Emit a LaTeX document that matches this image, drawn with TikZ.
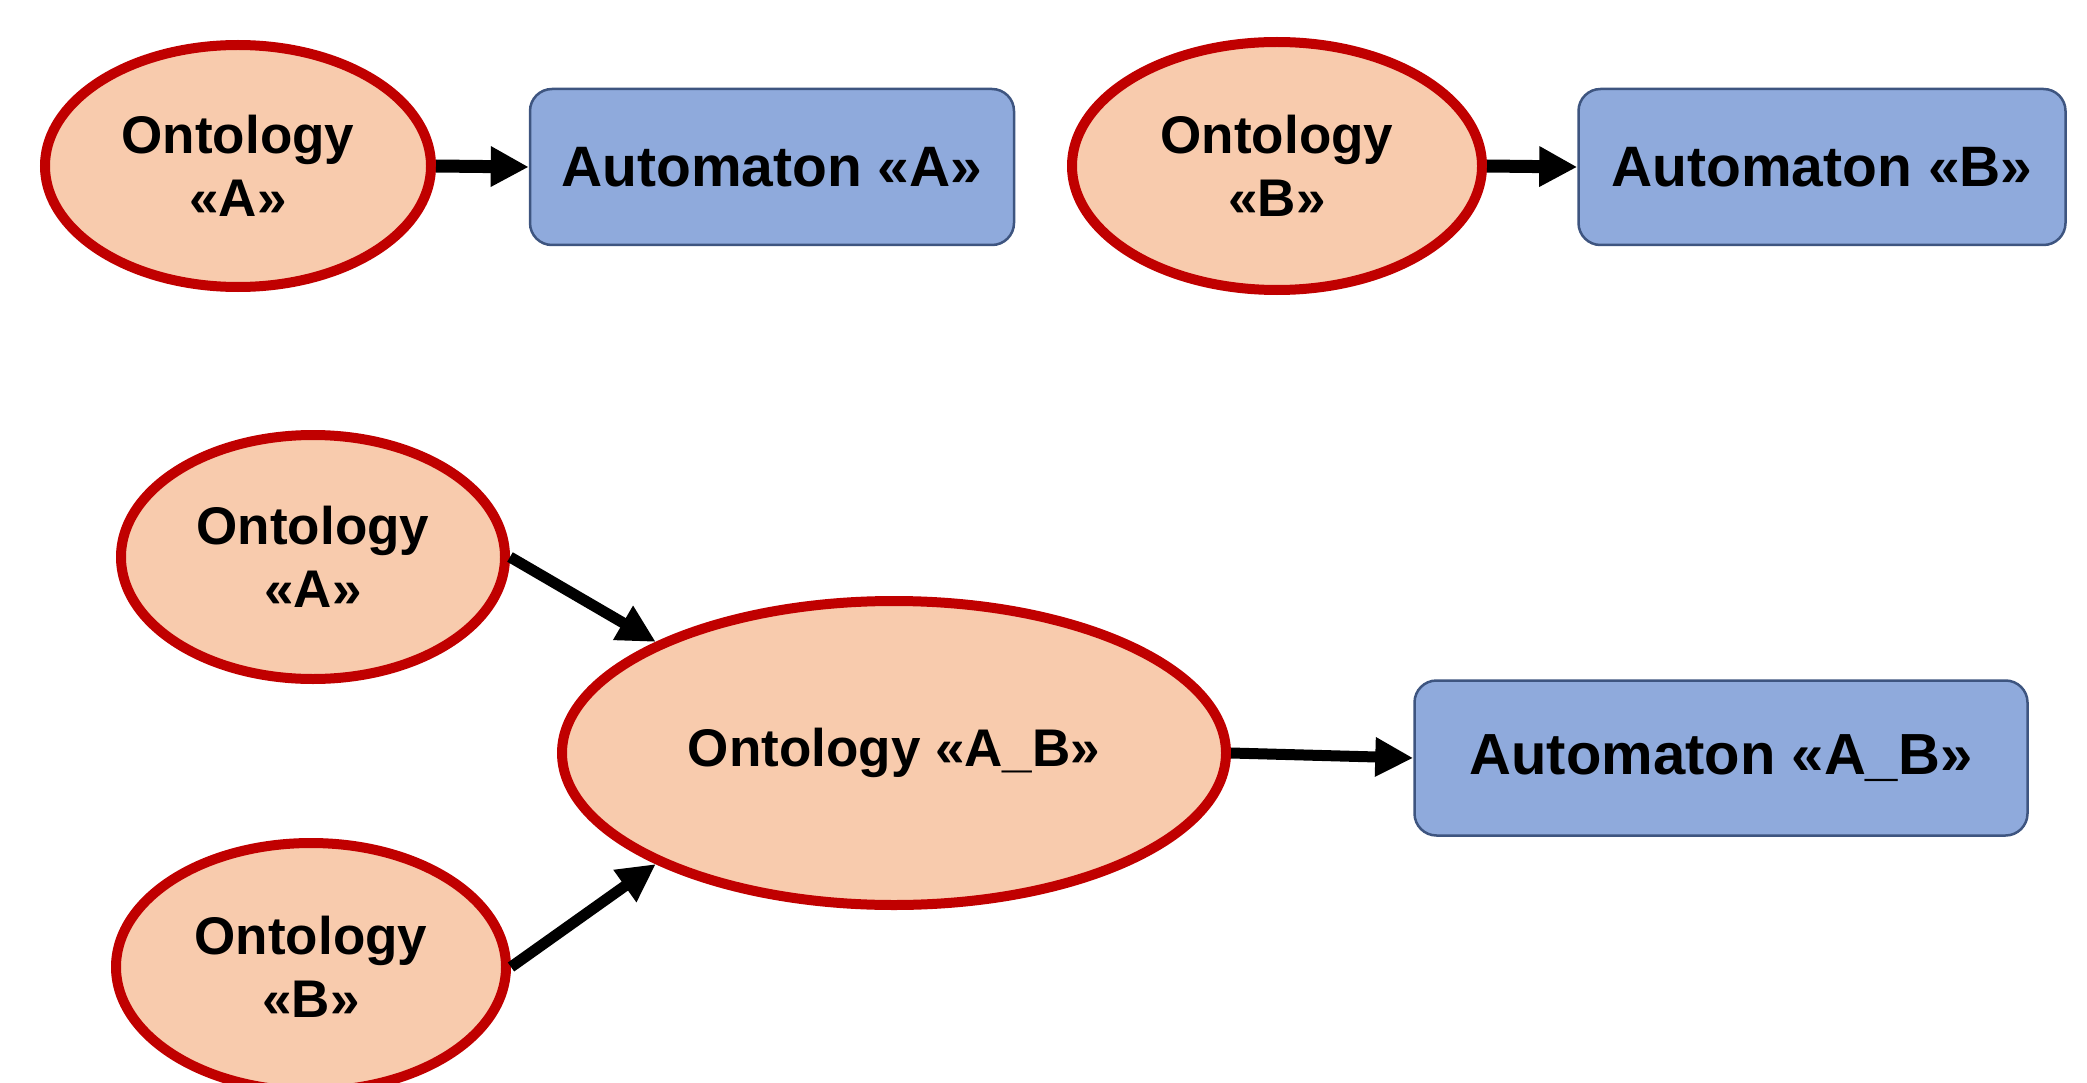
\documentclass[tikz,border=0pt]{standalone}
\usepackage{fontspec}
\setmainfont{Liberation Sans}
\usetikzlibrary{shapes.geometric,arrows.meta}
\definecolor{ontofill}{HTML}{F8CBAD}
\definecolor{ontoline}{HTML}{C00000}
\definecolor{autofill}{HTML}{8FAADC}
\definecolor{autoline}{HTML}{3E5580}
\tikzset{
  onto/.style={ellipse, draw=ontoline, fill=ontofill, line width=10pt, inner sep=0pt,
    align=center, font=\fontsize{53}{63}\selectfont\bfseries},
  autobox/.style={rectangle, rounded corners=22pt, draw=autoline, fill=autofill, line width=2.5pt,
    inner sep=0pt, align=center, font=\fontsize{57}{66}\selectfont\bfseries},
  conn/.style={line width=13pt, -{Triangle[length=38pt,width=38pt]}},
  conn2/.style={line width=11pt, -{Triangle[length=38pt,width=37pt]}}
}
\begin{document}
\begin{tikzpicture}[x=1pt,y=-1pt]
\useasboundingbox (0,0) rectangle (2087,1083);
% top row
\node[onto, minimum width=386pt, minimum height=242pt] (oa1) at (238,166) {Ontology\\«A»};
\node[autobox, minimum width=484pt, minimum height=156pt] (aa) at (772,167) {Automaton «A»};
\node[onto, minimum width=410pt, minimum height=248pt] (ob1) at (1277,166) {Ontology\\«B»};
\node[autobox, minimum width=487pt, minimum height=156pt] (ab) at (1822,167) {Automaton «B»};
\draw[conn] (oa1.east) -- (aa.west);
\draw[conn] (ob1.east) -- (ab.west);
% bottom
\node[onto, minimum width=384pt, minimum height=244pt] (oa2) at (313,557) {Ontology\\«A»};
\node[onto, minimum width=390pt, minimum height=248pt] (ob2) at (311,967) {Ontology\\«B»};
\node[onto, minimum width=664pt, minimum height=304pt] (oab) at (894,753) {Ontology «A\_B»};
\node[autobox, minimum width=613pt, minimum height=155pt, font=\fontsize{58}{66}\selectfont\bfseries] (aab) at (1721,758) {Automaton «A\_B»};
\draw[conn2] (oa2.east) -- (oab.155);
\draw[conn2] (ob2.east) -- (oab.205);
\draw[conn2] (oab.east) -- (aab.west);
\end{tikzpicture}
\end{document}
